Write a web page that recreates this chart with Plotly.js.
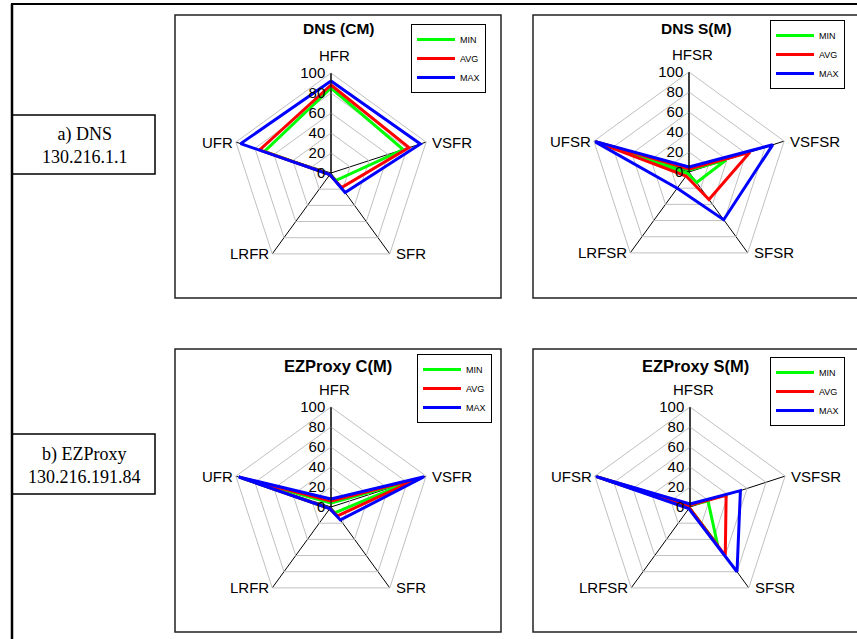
<!DOCTYPE html>
<html><head><meta charset="utf-8">
<script src="https://cdn.plot.ly/plotly-3.0.1.min.js"></script>
<style>html,body{margin:0;padding:0;background:#fff}#chart{width:857px;height:639px}</style>
</head><body><div id="chart"></div>
<script>
// ---- data ----
const seriesNames = ['MIN', 'AVG', 'MAX'];
const seriesColors = ['#00ff00', '#ff0000', '#0000ff'];

const clientCategories = ['HFR', 'VSFR', 'SFR', 'LRFR', 'UFR'];
const serverCategories = ['HFSR', 'VSFSR', 'SFSR', 'LRFSR', 'UFSR'];

const dnsCmMin = [85, 76, 9, 2, 70];
const dnsCmAvg = [88, 82, 18, 2, 75];
const dnsCmMax = [92, 94, 24, 2, 95];

const dnsSmMin = [2, 39, 13, 2, 100];
const dnsSmAvg = [3, 64, 34, 5, 100];
const dnsSmMax = [5, 88, 59, 20, 100];

const ezCmMin = [4, 86, 7, 2, 92];
const ezCmAvg = [6, 91, 11, 2, 94];
const ezCmMax = [8, 98, 16, 2, 97];

const ezSmMin = [2, 19, 47, 1, 100];
const ezSmAvg = [2, 38, 60, 1, 100];
const ezSmMax = [3, 53, 80, 2, 100];

const chartTitles = ['DNS (CM)', 'DNS S(M)', 'EZProxy C(M)', 'EZProxy S(M)'];
const rowLabels = [['a) DNS', '130.216.1.1'], ['b) EZProxy', '130.216.191.84']];

// ---- layout helpers ----
const W = 857, H = 639;
const fx = x => x / W;
const fy = y => 1 - y / H;
const SANS = 'Liberation Sans, Arial, sans-serif';
const SERIF = 'Liberation Serif, Times New Roman, serif';

const charts = [
  {cats: clientCategories, vals: [dnsCmMin, dnsCmAvg, dnsCmMax], cx: 331, cy: 173, title: chartTitles[0], tx: 338, ty: 29, tsize: 15.5, lx: 411, ly: 24, box: [175, 15, 501, 298]},
  {cats: serverCategories, vals: [dnsSmMin, dnsSmAvg, dnsSmMax], cx: 689, cy: 172, title: chartTitles[1], tx: 696, ty: 29, tsize: 15.5, lx: 770, ly: 20, box: [533, 15, 870, 298]},
  {cats: clientCategories, vals: [ezCmMin, ezCmAvg, ezCmMax], cx: 331, cy: 507, title: chartTitles[2], tx: 338, ty: 366, tsize: 16.5, lx: 417, ly: 354, box: [175, 349, 501, 632]},
  {cats: serverCategories, vals: [ezSmMin, ezSmAvg, ezSmMax], cx: 690, cy: 507, title: chartTitles[3], tx: 695, ty: 366, tsize: 16.5, lx: 770, ly: 357, box: [533, 349, 870, 632]}
];
const R = 100;

const data = [];
const layout = {
  width: W, height: H,
  margin: {l: 0, r: 0, t: 0, b: 0},
  paper_bgcolor: '#fff',
  showlegend: true,
  shapes: [],
  annotations: []
};

charts.forEach((c, i) => {
  const pk = i === 0 ? 'polar' : 'polar' + (i + 1);
  const lk = i === 0 ? 'legend' : 'legend' + (i + 1);
  layout[pk] = {
    domain: {x: [fx(c.cx - R), fx(c.cx + R)], y: [fy(c.cy + R), fy(c.cy - R)]},
    gridshape: 'linear',
    bgcolor: 'rgba(0,0,0,0)',
    radialaxis: {
      range: [0, 100], tick0: 0, dtick: 20, angle: 90, tickangle: 90,
      side: 'counterclockwise',
      showline: true, linecolor: '#000', linewidth: 1,
      showgrid: true, gridcolor: '#c0c0c0', gridwidth: 1,
      ticks: '', tickfont: {family: SANS, size: 15, color: '#000'}
    },
    angularaxis: {
      type: 'category', categoryorder: 'array', categoryarray: c.cats,
      direction: 'clockwise', rotation: 90,
      showline: true, linecolor: '#c0c0c0', linewidth: 1,
      showgrid: true, gridcolor: '#000', gridwidth: 1,
      ticks: '', showticklabels: false
    }
  };
  layout[lk] = {
    x: fx(c.lx), y: fy(c.ly), xanchor: 'left', yanchor: 'top',
    bordercolor: '#000', borderwidth: 1, bgcolor: '#fff',
    font: {family: SANS, size: 9, color: '#000'},
    itemwidth: 38,
    tracegroupgap: 0
  };
  c.vals.forEach((v, s) => {
    data.push({
      type: 'scatterpolar', subplot: pk, legend: lk,
      mode: 'lines',
      r: v.concat([v[0]]),
      theta: c.cats.concat([c.cats[0]]),
      name: seriesNames[s],
      line: {color: seriesColors[s], width: 3},
      hoverinfo: 'skip'
    });
  });
  // category labels placed Excel-style around the pentagon vertices
  c.cats.forEach((name, k) => {
    const a = (90 - 72 * k) * Math.PI / 180;
    const vx = c.cx + R * Math.cos(a), vy = c.cy - R * Math.sin(a);
    let ann;
    if (k === 0) {
      ann = {x: fx(vx + 3), y: fy(vy - 8), xanchor: 'center', yanchor: 'bottom'};
    } else if (Math.cos(a) > 0) {
      ann = {x: fx(vx + 5), y: fy(vy), xanchor: 'left', yanchor: 'middle'};
    } else {
      ann = {x: fx(vx - 2), y: fy(vy), xanchor: 'right', yanchor: 'middle'};
    }
    layout.annotations.push(Object.assign(ann, {xref: 'paper', yref: 'paper', showarrow: false, text: name, borderpad: 0, font: {family: SANS, size: 15, color: '#000'}}));
  });
  const b = c.box;
  layout.shapes.push({type: 'rect', xref: 'paper', yref: 'paper', x0: fx(b[0]), x1: fx(b[2]), y0: fy(b[3]), y1: fy(b[1]), line: {color: '#222', width: 1.5}});
  layout.annotations.push({xref: 'paper', yref: 'paper', x: fx(c.tx), y: fy(c.ty), xanchor: 'center', yanchor: 'middle', showarrow: false, text: '<b>' + c.title + '</b>', font: {family: SANS, size: c.tsize, color: '#000'}});
});

// outer frame
layout.shapes.push({type: 'line', xref: 'paper', yref: 'paper', x0: fx(11), x1: fx(870), y0: fy(4), y1: fy(4), line: {color: '#000', width: 2}});
layout.shapes.push({type: 'line', xref: 'paper', yref: 'paper', x0: fx(12), x1: fx(12), y0: fy(4), y1: fy(650), line: {color: '#000', width: 2.5}});

// row label boxes
const rowBoxes = [[12, 115, 155, 174], [12, 434, 155, 494]];
rowBoxes.forEach((b, i) => {
  layout.shapes.push({type: 'rect', xref: 'paper', yref: 'paper', x0: fx(b[0]), x1: fx(b[2]), y0: fy(b[3]), y1: fy(b[1]), line: {color: '#000', width: 1.5}});
  layout.annotations.push({xref: 'paper', yref: 'paper', x: fx((b[0] + b[2]) / 2 + 1), y: fy((b[1] + b[3]) / 2 + 1), xanchor: 'center', yanchor: 'middle', showarrow: false, align: 'center', text: rowLabels[i][0] + '<br>' + rowLabels[i][1], font: {family: SERIF, size: 18, color: '#000'}});
});

Plotly.newPlot('chart', data, layout, {staticPlot: true});
</script>
</body></html>
